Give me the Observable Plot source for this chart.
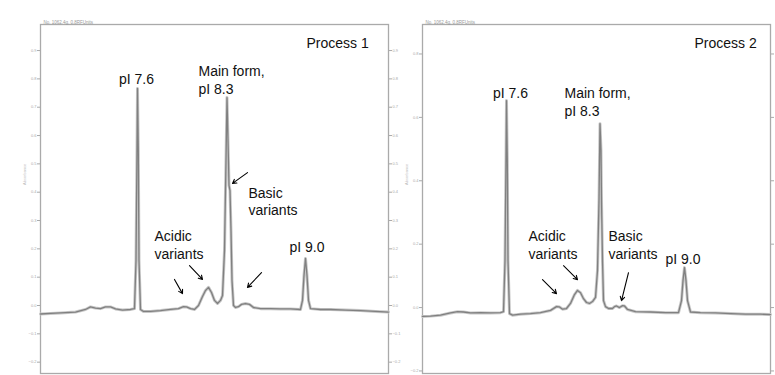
<!DOCTYPE html>
<html><head><meta charset="utf-8">
<script src="https://cdn.jsdelivr.net/npm/d3@7"></script>
<script src="https://cdn.jsdelivr.net/npm/@observablehq/plot@0.6"></script>
<style>
html,body{margin:0;padding:0;background:#fff;}
#wrap{position:relative;width:775px;height:375px;overflow:hidden;}
#wrap svg{position:absolute;top:0;overflow:visible;}
</style></head><body><div id="wrap"></div>
<script>
// ---------- Process 1 trace (position along capillary, absorbance) ----------
const p1Pos = [0,10,20,35,45,50,55,60,65,70,75,82,90,94,95.5,96.5,97,97.8,98.5,100,103,110,120,130,138,143,146,150,154,158,162,165,168,171,174,177,180,182,184,185.5,186.5,187.5,188.5,189.5,190.5,191.5,193,195,198,201,205,209,213,220,230,240,250,260,262,263.5,265,266.5,268,270,280,290,305,320,335,348];
const p1Abs = [-0.030,-0.028,-0.026,-0.023,-0.014,-0.005,-0.009,-0.011,-0.005,-0.005,-0.012,-0.016,-0.014,-0.011,0.159,0.547,0.766,0.547,0.159,-0.014,-0.021,-0.021,-0.018,-0.014,-0.011,-0.004,-0.005,-0.011,-0.014,0.000,0.032,0.053,0.064,0.046,0.018,0.007,0.018,0.035,0.194,0.512,0.734,0.582,0.424,0.406,0.265,0.088,0.000,-0.007,-0.004,0.004,0.007,0.004,-0.007,-0.011,-0.011,-0.012,-0.012,-0.014,0.018,0.106,0.166,0.106,0.018,-0.011,-0.014,-0.014,-0.016,-0.018,-0.021,-0.023];
const p1Ticks = [-0.2,-0.1,0,0.1,0.2,0.3,0.4,0.5,0.6,0.7,0.8,0.9];
const p1LabelText = ["Process 1","pI 7.6","Main form,\npI 8.3","Basic\nvariants","Acidic\nvariants","pI 9.0"];
const p1LabelX = [266,96,158,208,114,249];
const p1LabelY = [0.928,0.801,0.798,0.369,0.215,0.208];
const p1LabelAnchor = ["start","middle","start","start","start","start"];
const p1ArrowX1 = [207,134,149,221];
const p1ArrowY1 = [0.469,0.092,0.141,0.116];
const p1ArrowX2 = [192,142,162,207];
const p1ArrowY2 = [0.431,0.042,0.092,0.064];

// ---------- Process 2 trace ----------
const p2Pos = [0,8,18,28,35,41,48,58,68,78,81,82.5,83.5,84,84.8,85.5,87,90,98,108,118,128,134,137,140,144,148,152,155,158,161,164,167,170,173,175,176.5,177.5,178.5,179,180,181,183,186,190,192,194,197,200,202,205,213,228,243,256,259,260.5,262,263.5,265,268,278,293,308,323,338,348];
const p2Abs = [-0.028,-0.027,-0.024,-0.017,-0.013,-0.014,-0.017,-0.016,-0.017,-0.016,-0.013,0.148,0.464,0.653,0.464,0.148,-0.019,-0.024,-0.021,-0.019,-0.016,-0.009,0.003,0.002,-0.005,-0.003,0.013,0.041,0.054,0.047,0.028,0.016,0.013,0.019,0.032,0.117,0.338,0.580,0.495,0.338,0.148,0.022,0.003,-0.003,-0.003,0.003,0.005,0.000,0.006,0.005,-0.006,-0.013,-0.014,-0.016,-0.016,0.022,0.085,0.126,0.085,0.022,-0.014,-0.016,-0.017,-0.019,-0.021,-0.021,-0.022];
const p2Ticks = [-0.2,0,0.2,0.4,0.6,0.8];
const p2LabelText = ["Process 2","pI 7.6","Main form,\npI 8.3","Acidic\nvariants","Basic\nvariants","pI 9.0"];
const p2LabelX = [272,88,142,106,186,243];
const p2LabelY = [0.836,0.678,0.651,0.199,0.199,0.155];
const p2LabelAnchor = ["start","middle","start","start","start","start"];
const p2ArrowX1 = [120,141,206];
const p2ArrowY1 = [0.088,0.132,0.110];
const p2ArrowX2 = [134,155,199];
const p2ArrowY2 = [0.044,0.088,0.022];

const headerText = "No. 1062.4g, 0.8RFUnits";
const yTitleText = "Absorbance";

function panel(cfg) {
  const trace = cfg.pos.map((x, i) => ({x, y: cfg.abs[i]}));
  const labels = cfg.labelText.map((t, i) => ({t, x: cfg.labelX[i], y: cfg.labelY[i], a: cfg.labelAnchor[i]}));
  const arrows = cfg.ax1.map((x1, i) => ({x1, y1: cfg.ay1[i], x2: cfg.ax2[i], y2: cfg.ay2[i]}));
  const font = "'Liberation Sans', Arial, sans-serif";
  const axisOpts = {tickSize: 3, tickPadding: 1, fontSize: 4, stroke: "#aaa", fill: "#aaa", label: null, tickFormat: d3.format(".1f")};
  const svg = Plot.plot({
    width: cfg.width, height: 375,
    marginLeft: cfg.ml, marginRight: cfg.mr, marginTop: 24, marginBottom: 2,
    x: {domain: [0, 348], axis: null},
    y: {domain: cfg.yDomain, axis: null},
    style: {fontFamily: font, background: "transparent", overflow: "visible"},
    marks: [
      Plot.frame({stroke: "#aaa", strokeWidth: 1.3}),
      Plot.axisY(cfg.ticks, {anchor: "left", ...axisOpts}),
      Plot.axisY(cfg.ticks, {anchor: "right", ...axisOpts, fill: cfg.rightLabels ? "#aaa" : "none"}),
      Plot.text([yTitleText], {frameAnchor: "left", rotate: -90, dx: -16, dy: -14, fontSize: 4, fill: "#bbb"}),
      Plot.text([headerText], {frameAnchor: "top-left", textAnchor: "start", dx: 3, dy: -4, fontSize: 4.5, fill: "#999"}),
      Plot.line(trace, {x: "x", y: "y", stroke: "#c8c8c8", strokeWidth: 3}),
      Plot.line(trace, {x: "x", y: "y", stroke: "#808080", strokeWidth: 1.3}),
      Plot.text(labels.filter(d => d.a === "start"), {x: "x", y: "y", text: "t", textAnchor: "start", fontSize: 14, lineHeight: 1.25, fill: "#111"}),
      Plot.text(labels.filter(d => d.a === "middle"), {x: "x", y: "y", text: "t", textAnchor: "middle", fontSize: 14, lineHeight: 1.25, fill: "#111"}),
      Plot.arrow(arrows, {x1: "x1", y1: "y1", x2: "x2", y2: "y2", stroke: "#000", strokeWidth: 1.1, headLength: 6})
    ]
  });
  svg.style.left = cfg.left + "px";
  return svg;
}

const wrap = document.getElementById("wrap");
wrap.appendChild(panel({
  left: 0, width: 390, ml: 40, mr: 2, yDomain: [-0.24, 0.992], ticks: p1Ticks, rightLabels: true,
  pos: p1Pos, abs: p1Abs, labelText: p1LabelText, labelX: p1LabelX, labelY: p1LabelY, labelAnchor: p1LabelAnchor,
  ax1: p1ArrowX1, ay1: p1ArrowY1, ax2: p1ArrowX2, ay2: p1ArrowY2
}));
wrap.appendChild(panel({
  left: 390, width: 385, ml: 32, mr: 5, yDomain: [-0.208, 0.893], ticks: p2Ticks, rightLabels: false,
  pos: p2Pos, abs: p2Abs, labelText: p2LabelText, labelX: p2LabelX, labelY: p2LabelY, labelAnchor: p2LabelAnchor,
  ax1: p2ArrowX1, ay1: p2ArrowY1, ax2: p2ArrowX2, ay2: p2ArrowY2
}));
</script></body></html>
